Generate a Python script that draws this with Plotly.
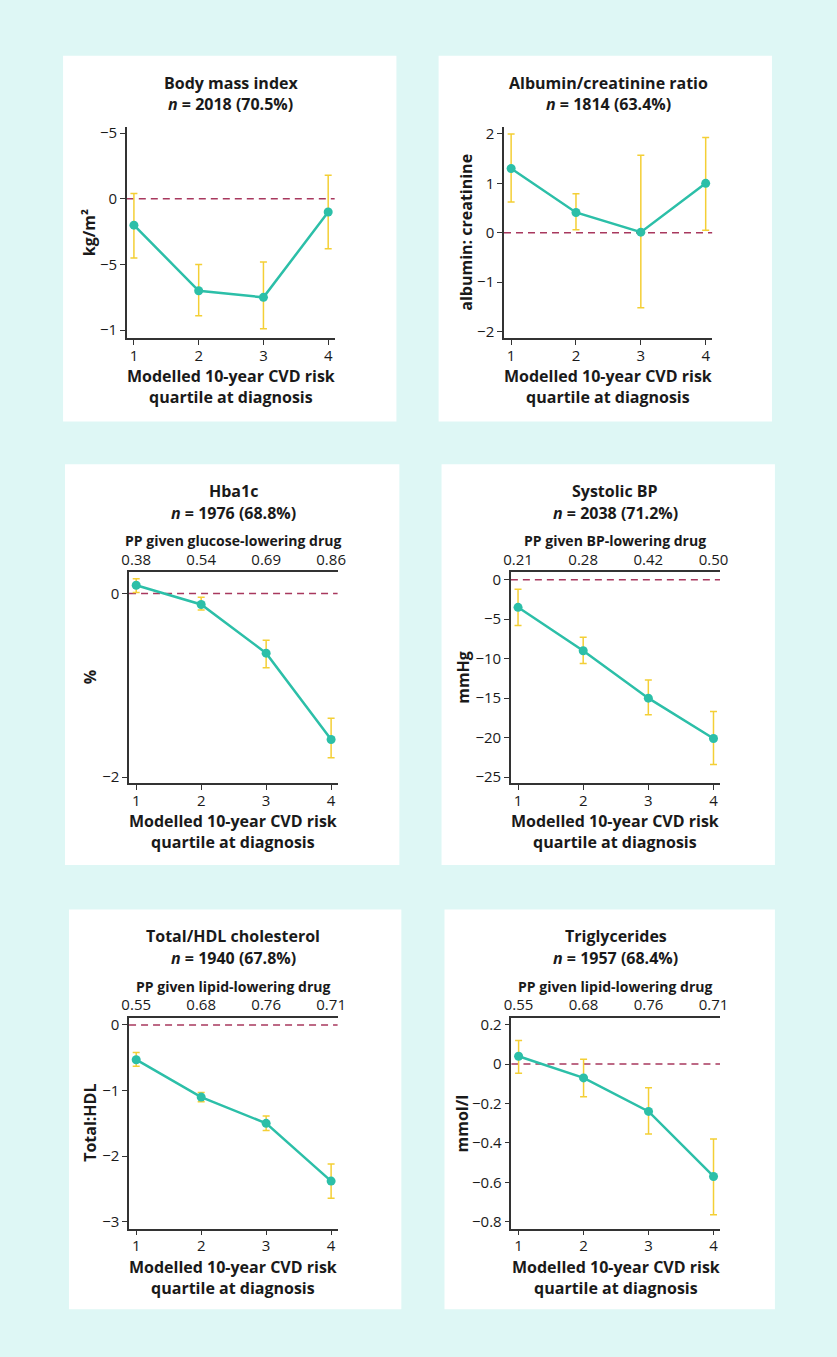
import plotly.graph_objects as go

# page window and the 8px default body margin of the html page
WIN_W, WIN_H = 837, 1357
OFF = 8
W, H = WIN_W - 2 * OFF, WIN_H - 2 * OFF

quartiles = [1, 2, 3, 4]

bmi_est = [-0.20, -0.70, -0.75, -0.10]
bmi_lo = [-0.45, -0.89, -0.99, -0.38]
bmi_hi = [0.04, -0.50, -0.48, 0.18]

acr_est = [1.30, 0.41, 0.01, 1.00]
acr_lo = [0.62, 0.06, -1.52, 0.05]
acr_hi = [2.00, 0.79, 1.57, 1.93]

hba_est = [0.09, -0.12, -0.65, -1.59]
hba_lo = [0.01, -0.18, -0.81, -1.79]
hba_hi = [0.16, -0.04, -0.51, -1.36]

sbp_est = [-3.5, -9.0, -15.0, -20.1]
sbp_lo = [-5.8, -10.6, -17.1, -23.4]
sbp_hi = [-1.2, -7.3, -12.7, -16.7]

chol_est = [-0.53, -1.10, -1.50, -2.38]
chol_lo = [-0.63, -1.17, -1.61, -2.64]
chol_hi = [-0.42, -1.03, -1.39, -2.12]

tg_est = [0.04, -0.07, -0.24, -0.57]
tg_lo = [-0.047, -0.165, -0.355, -0.764]
tg_hi = [0.12, 0.025, -0.12, -0.38]

pp_glucose = ["0.38", "0.54", "0.69", "0.86"]
pp_bp = ["0.21", "0.28", "0.42", "0.50"]
pp_lipid = ["0.55", "0.68", "0.76", "0.71"]

titles = ["Body mass index", "Albumin/creatinine ratio", "Hba1c",
          "Systolic BP", "Total/HDL cholesterol", "Triglycerides"]
n_labels = ["2018 (70.5%)", "1814 (63.4%)", "1976 (68.8%)",
            "2038 (71.2%)", "1940 (67.8%)", "1957 (68.4%)"]
y_titles = ["kg/m²", "albumin: creatinine", "%", "mmHg", "Total:HDL", "mmol/l"]
x_title = "Modelled 10-year CVD risk<br>quartile at diagnosis"

BG = "#def7f5"
TEAL = "#2cbfa8"
GOLD = "#f4cf35"
DASH = "#a8385e"
AX = "#333333"
FONT = "Open Sans"
TXT = "#1a1a1a"


def px(x):
    return (x - OFF) / W


def py(y):
    return 1 - (y - OFF) / H


panels = [
    dict(box=(56, 51, 396, 419), plot=(121, 123, 333, 335), est=bmi_est, lo=bmi_lo, hi=bmi_hi,
         yr=[-1.06, 0.545], tv=[-1, -0.5, 0, 0.5], tt=["−1", "−5", "0", "−5"], top=None, toptitle=None, ytx=82),
    dict(box=(439, 51, 779, 419), plot=(505.7, 123, 718, 335), est=acr_est, lo=acr_lo, hi=acr_hi,
         yr=[-2.135, 2.135], tv=[-2, -1, 0, 1, 2], tt=None, top=None, toptitle=None, ytx=467),
    dict(box=(58, 462, 399, 865), plot=(123.3, 570.7, 336, 782.7), est=hba_est, lo=hba_lo, hi=hba_hi,
         yr=[-2.065, 0.23], tv=[-2, 0], tt=["−2", "0"], top=pp_glucose,
         toptitle="PP given glucose-lowering drug", ytx=83),
    dict(box=(442, 462, 782, 865), plot=(512.7, 570.7, 726, 782.7), est=sbp_est, lo=sbp_lo, hi=sbp_hi,
         yr=[-25.75, 0.93], tv=[-25, -20, -15, -10, -5, 0], tt=None, top=pp_bp,
         toptitle="PP given BP-lowering drug", ytx=464),
    dict(box=(62, 910, 401, 1312), plot=(123.3, 1019, 336, 1231), est=chol_est, lo=chol_lo, hi=chol_hi,
         yr=[-3.106, 0.106], tv=[-3, -2, -1, 0], tt=None, top=pp_lipid,
         toptitle="PP given lipid-lowering drug", ytx=84),
    dict(box=(445, 910, 782, 1312), plot=(513.3, 1019, 726, 1231), est=tg_est, lo=tg_lo, hi=tg_hi,
         yr=[-0.835, 0.234], tv=[-0.8, -0.6, -0.4, -0.2, 0, 0.2], tt=None, top=pp_lipid,
         toptitle="PP given lipid-lowering drug", ytx=463),
]

fig = go.Figure()
layout = dict(
    width=W, height=H, margin=dict(l=0, r=0, t=0, b=0),
    paper_bgcolor=BG, plot_bgcolor="rgba(0,0,0,0)", showlegend=False,
    font=dict(family=FONT, size=15, color=TXT),
)
shapes = []
annotations = []

for i, p in enumerate(panels):
    k = i + 1
    xa = "x" if k == 1 else f"x{k}"
    ya = "y" if k == 1 else f"y{k}"
    x0, y0, x1, y1 = p["plot"]
    bx0, by0, bx1, by1 = p["box"]
    shapes.append(dict(type="rect", xref="paper", yref="paper", x0=px(bx0), x1=px(bx1),
                       y0=py(by1), y1=py(by0), fillcolor="white", line=dict(width=0), layer="below"))
    shapes.append(dict(type="line", xref=f"{xa} domain", yref=ya, x0=0, x1=1, y0=0, y1=0,
                       line=dict(color=DASH, width=1.5, dash="7px,5px"), layer="below"))

    up = [h - e for h, e in zip(p["hi"], p["est"])]
    dn = [e - l for e, l in zip(p["est"], p["lo"])]
    fig.add_trace(go.Scatter(
        x=quartiles, y=p["est"], mode="lines+markers", xaxis=xa, yaxis=ya,
        line=dict(color=TEAL, width=2.5), marker=dict(color=TEAL, size=9),
        error_y=dict(type="data", symmetric=False, array=up, arrayminus=dn,
                     color=GOLD, thickness=1.5, width=3.5),
        hoverinfo="skip"))

    xkey = "xaxis" if k == 1 else f"xaxis{k}"
    ykey = "yaxis" if k == 1 else f"yaxis{k}"
    layout[xkey] = dict(domain=[px(x0), px(x1)], anchor=ya, range=[0.89, 4.1],
                        tickvals=quartiles, ticktext=[str(q) for q in quartiles],
                        showline=True, linecolor=AX, linewidth=1.5, ticks="outside",
                        ticklen=5, tickcolor=AX, showgrid=False, zeroline=False,
                        tickfont=dict(size=15), ticklabelstandoff=-2, fixedrange=True)
    yd = dict(domain=[py(y1), py(y0)], anchor=xa, range=p["yr"], tickvals=p["tv"],
              showline=True, linecolor=AX, linewidth=1.5, ticks="outside", ticklen=5,
              tickcolor=AX, showgrid=False, zeroline=False, tickfont=dict(size=15),
              fixedrange=True)
    if p["tt"] is not None:
        yd["ticktext"] = p["tt"]
    layout[ykey] = yd

    cx = px((x0 + x1) / 2)
    if p["top"] is not None:
        tn = k + 6
        tk = f"xaxis{tn}"
        layout[tk] = dict(overlaying=xa, side="top", anchor=ya, range=[0.89, 4.1],
                          tickvals=quartiles, ticktext=p["top"], showline=True,
                          linecolor=AX, linewidth=1.5, ticks="", showgrid=False,
                          zeroline=False, tickfont=dict(size=15), fixedrange=True)
        # invisible companion trace so the top (PP) axis is drawn
        fig.add_trace(go.Scatter(x=quartiles, y=p["est"], mode="markers", xaxis=f"x{tn}",
                                 yaxis=ya, marker=dict(opacity=0), hoverinfo="skip"))
        annotations.append(dict(x=cx, y=py(y0 - 32), xref="paper", yref="paper",
                                text=f"<b>{p['toptitle']}</b>", showarrow=False,
                                font=dict(size=14), xanchor="center", yanchor="middle"))
        t1, t2 = y0 - 82, y0 - 60
    else:
        t1, t2 = y0 - 45, y0 - 23
    annotations.append(dict(x=cx, y=py(t1), xref="paper", yref="paper",
                            text=f"<b>{titles[i]}</b>", showarrow=False,
                            font=dict(size=16), xanchor="center", yanchor="middle"))
    annotations.append(dict(x=cx, y=py(t2), xref="paper", yref="paper",
                            text=f"<b><i>n</i> = {n_labels[i]}</b>", showarrow=False,
                            font=dict(size=16), xanchor="center", yanchor="middle"))
    annotations.append(dict(x=cx, y=py(y1 + 49), xref="paper", yref="paper",
                            text=f"<b>{x_title}</b>", showarrow=False,
                            font=dict(size=16), xanchor="center", yanchor="middle"))
    annotations.append(dict(x=px(p["ytx"]), y=py((y0 + y1) / 2), xref="paper", yref="paper",
                            text=f"<b>{y_titles[i]}</b>", showarrow=False, textangle=-90,
                            font=dict(size=16), xanchor="center", yanchor="middle"))

layout["shapes"] = shapes
layout["annotations"] = annotations
fig.update_layout(**layout)
fig.write_html(
    "out.html",
    config={"displayModeBar": False},
    post_script=f"document.body.style.background='{BG}';"
                f"document.documentElement.style.background='{BG}';",
)
